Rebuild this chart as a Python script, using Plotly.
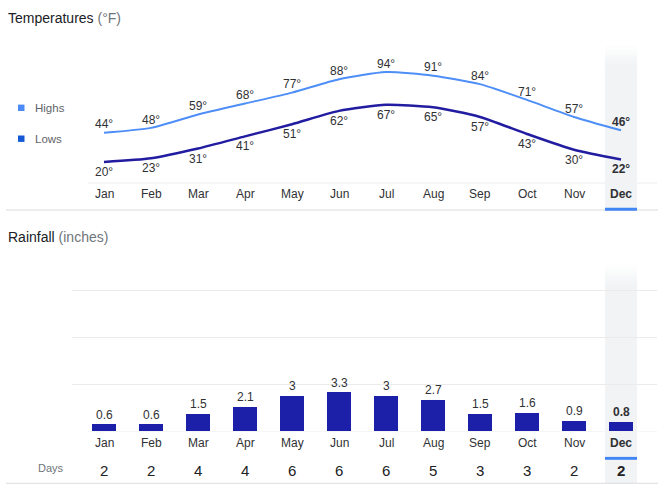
import plotly.graph_objects as go

months = ["Jan", "Feb", "Mar", "Apr", "May", "Jun", "Jul", "Aug", "Sep", "Oct", "Nov", "Dec"]
highs = [44, 48, 59, 68, 77, 88, 94, 91, 84, 71, 57, 46]
lows = [20, 23, 31, 41, 51, 62, 67, 65, 57, 43, 30, 22]
rain = [0.6, 0.6, 1.5, 2.1, 3, 3.3, 3, 2.7, 1.5, 1.6, 0.9, 0.8]
days = [2, 2, 4, 4, 6, 6, 6, 5, 3, 3, 2, 2]
selected = "Dec"

W, H = 666, 491
FONT = "Arial, Liberation Sans, sans-serif"
HIGH_C = "#4e8ef7"
LOW_C = "#211ca0"
BAR_C = "#1c1fa8"
TXT = "#303134"
GRAY = "#70757a"
HL = "#f1f3f4"
BLUE = "#4285f4"


def px(x):
    return x / W


def py(y):
    return 1 - y / H


def bold(s, m):
    return f"<b>{s}</b>" if m == selected else s


fig = go.Figure()

fig.add_trace(go.Scatter(x=months, y=highs, mode="lines", line=dict(color=HIGH_C, width=2, shape="spline", smoothing=0.6),
                         xaxis="x", yaxis="y", hoverinfo="skip", showlegend=False))
fig.add_trace(go.Scatter(x=months, y=lows, mode="lines", line=dict(color=LOW_C, width=2.5, shape="spline", smoothing=0.6),
                         xaxis="x", yaxis="y", hoverinfo="skip", showlegend=False))
fig.add_trace(go.Bar(x=months, y=rain, width=0.51, marker=dict(color=BAR_C, line=dict(width=0)),
                     xaxis="x2", yaxis="y2", hoverinfo="skip", showlegend=False))

ann = []
shapes = []

# titles
ann.append(dict(text=f"Temperatures <span style='color:{GRAY}'>(°F)</span>", x=px(6), y=py(18.5), xref="paper", yref="paper",
                xanchor="left", yanchor="middle", showarrow=False, font=dict(size=14, color="#202124", family=FONT)))
ann.append(dict(text=f"Rainfall <span style='color:{GRAY}'>(inches)</span>", x=px(6), y=py(237), xref="paper", yref="paper",
                xanchor="left", yanchor="middle", showarrow=False, font=dict(size=14, color="#202124", family=FONT)))

# legend
for name, col, yc in [("Highs", "#4c8bf5", 107.8), ("Lows", "#1558d6", 138.7)]:
    shapes.append(dict(type="rect", xref="paper", yref="paper", x0=px(18), x1=px(24.5), y0=py(yc - 3.2), y1=py(yc + 3.2),
                       fillcolor=col, line=dict(width=0)))
    ann.append(dict(text=name, x=px(32.5), y=py(yc), xref="paper", yref="paper", xanchor="left", yanchor="middle",
                    showarrow=False, font=dict(size=11.5, color="#5f6368", family=FONT)))

# highlight columns (Dec)
idx = months.index(selected)
for xr, ytop, ybot in [("x", 45, 210), ("x2", 265, 483)]:
    fade = 20
    shapes.append(dict(type="rect", xref=xr, yref="paper", x0=idx - 0.34, x1=idx + 0.34, y0=py(ybot), y1=py(ytop + fade),
                       fillcolor=HL, line=dict(width=0), layer="below"))
    n = 10
    for k in range(n):
        shapes.append(dict(type="rect", xref=xr, yref="paper", x0=idx - 0.34, x1=idx + 0.34,
                           y0=py(ytop + (k + 1) * fade / n), y1=py(ytop + k * fade / n),
                           fillcolor=HL, opacity=(k + 0.5) / n, line=dict(width=0), layer="below"))

# baselines and separators
shapes.append(dict(type="line", xref="paper", yref="paper", x0=px(88), x1=px(657), y0=py(183), y1=py(183),
                   line=dict(color="#f1f3f4", width=1.5), layer="below"))
shapes.append(dict(type="line", xref="paper", yref="y2", x0=px(88), x1=px(657), y0=0, y1=0,
                   line=dict(color="#f1f3f4", width=1.5), layer="below"))
for yy in [210, 483.3]:
    shapes.append(dict(type="line", xref="paper", yref="paper", x0=px(6), x1=px(658), y0=py(yy), y1=py(yy),
                       line=dict(color="#dadce0", width=1)))
# selection underline
shapes.append(dict(type="rect", xref="x", yref="paper", x0=idx - 0.34, x1=idx + 0.34, y0=py(210.7), y1=py(207.8),
                   fillcolor=BLUE, line=dict(width=0)))
shapes.append(dict(type="rect", xref="x2", yref="paper", x0=idx - 0.34, x1=idx + 0.34, y0=py(459.8), y1=py(456.9),
                   fillcolor=BLUE, line=dict(width=0)))

# temperature labels
for m, h, l in zip(months, highs, lows):
    ann.append(dict(text=bold(f"{h}°", m), x=m, y=h, xref="x", yref="y", yshift=8.3, showarrow=False,
                    xanchor="center", yanchor="middle", font=dict(size=12, color=TXT, family=FONT)))
    ann.append(dict(text=bold(f"{l}°", m), x=m, y=l, xref="x", yref="y", yshift=-10, showarrow=False,
                    xanchor="center", yanchor="middle", font=dict(size=12, color=TXT, family=FONT)))
    ann.append(dict(text=bold(m, m), x=m, y=py(194), xref="x", yref="paper", showarrow=False,
                    xanchor="center", yanchor="middle", font=dict(size=12, color=TXT, family=FONT)))

# rainfall labels
for m, r, d in zip(months, rain, days):
    ann.append(dict(text=bold(f"{r:g}", m), x=m, y=r, xref="x2", yref="y2", yshift=10, showarrow=False,
                    xanchor="center", yanchor="middle", font=dict(size=12, color=TXT, family=FONT)))
    ann.append(dict(text=bold(m, m), x=m, y=py(442.5), xref="x2", yref="paper", showarrow=False,
                    xanchor="center", yanchor="middle", font=dict(size=12, color=TXT, family=FONT)))
    ann.append(dict(text=bold(str(d), m), x=m, y=py(470), xref="x2", yref="paper", showarrow=False,
                    xanchor="center", yanchor="middle", font=dict(size=15, color="#202124", family=FONT)))
ann.append(dict(text="Days", x=px(51), y=py(468), xref="paper", yref="paper", showarrow=False,
                xanchor="center", yanchor="middle", font=dict(size=11, color=GRAY, family=FONT)))

r0 = -(104 - 71.7) / 47
r1 = 11 + (657 - 621) / 47

fig.update_layout(
    width=W, height=H, margin=dict(l=0, r=0, t=0, b=0),
    paper_bgcolor="white", plot_bgcolor="rgba(0,0,0,0)",
    font=dict(family=FONT),
    xaxis=dict(domain=[px(80.5), px(644.5)], range=[-0.5, 11.5], showgrid=False, zeroline=False,
               showticklabels=False, showline=False, ticks="", fixedrange=True),
    yaxis=dict(domain=[py(186.2), py(64.7)], range=[0, 100], showgrid=False, zeroline=False,
               showticklabels=False, showline=False, ticks="", fixedrange=True),
    xaxis2=dict(domain=[px(71.7), px(657)], range=[r0, r1], showgrid=False, zeroline=False,
                showticklabels=False, showline=False, ticks="", anchor="y2", fixedrange=True),
    yaxis2=dict(domain=[py(431.7), py(431.7 - 13 * 11.8)], range=[0, 13], tickvals=[4, 8, 12], showgrid=True,
                gridcolor="#ebebeb", gridwidth=1, zeroline=False, showticklabels=False, showline=False, ticks="",
                anchor="x2", fixedrange=True),
    annotations=ann, shapes=shapes, bargap=0,
)

fig.write_html("out.html", config={"displayModeBar": False},
               post_script="document.body.style.margin='0';document.body.style.padding='0';")
